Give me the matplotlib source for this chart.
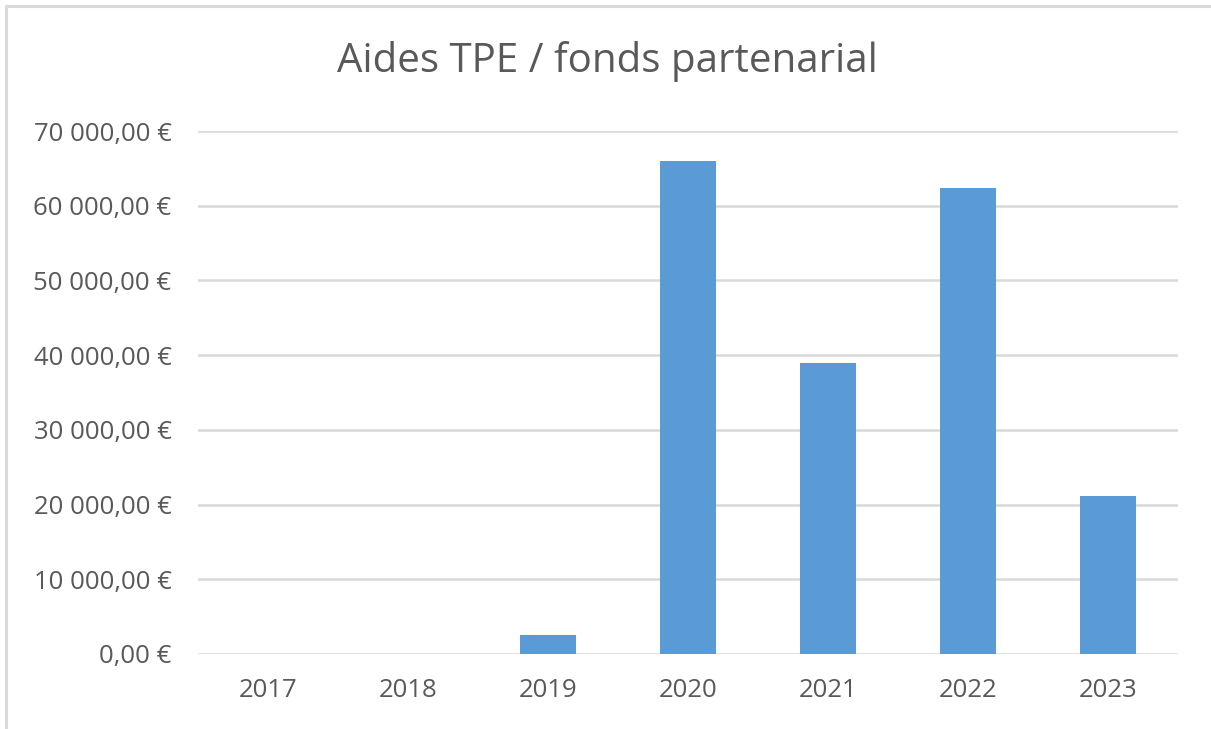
import matplotlib
matplotlib.use("Agg")
import matplotlib.pyplot as plt
from matplotlib.ticker import FuncFormatter, MultipleLocator

# données
ANNEES = ["2017", "2018", "2019", "2020", "2021", "2022", "2023"]
MONTANTS = [0, 0, 2500, 66000, 39000, 62400, 21100]

BLEU = "#5B9BD5"
TEXTE = "#595959"
GRILLE = "#D9D9D9"

plt.rcParams["font.family"] = ["Open Sans", "DejaVu Sans"]


def euros(v, pos):
    s = f"{v:,.2f}".replace(",", " ").replace(".", ",")
    return s + " €"


def main():
    fig = plt.figure(figsize=(12.11, 7.29), dpi=100)
    ax = fig.add_axes([0.1635, 0.1029, 0.8092, 0.7174])

    # cadre du graphique (seuls les bords gauche et haut sont visibles)
    fig.add_artist(plt.Line2D([6 / 1211, 6 / 1211, 1.0], [0.0, 1 - 6 / 729, 1 - 6 / 729],
                              transform=fig.transFigure, color=GRILLE, linewidth=2.2))

    x = range(len(ANNEES))
    ax.bar(x, MONTANTS, width=0.4, color=BLEU, zorder=3)

    ax.set_xlim(-0.5, len(ANNEES) - 0.5)
    ax.set_ylim(0, 70000)
    ax.yaxis.set_major_locator(MultipleLocator(10000))
    ax.yaxis.set_major_formatter(FuncFormatter(euros))
    ax.set_xticks(list(x))
    ax.set_xticklabels(ANNEES)

    ax.grid(axis="y", color=GRILLE, linewidth=1.8, zorder=0)
    for s in ax.spines.values():
        s.set_visible(False)
    ax.tick_params(length=0, labelsize=18.5, colors=TEXTE)
    ax.tick_params(axis="y", pad=19)
    ax.tick_params(axis="x", pad=17)
    ax.set_axisbelow(True)

    fig.text(0.502, 0.915, "Aides TPE / fonds partenarial", ha="center",
             va="center", fontsize=29, color=TEXTE)

    fig.savefig("out.png", dpi=100)


if __name__ == "__main__":
    main()
